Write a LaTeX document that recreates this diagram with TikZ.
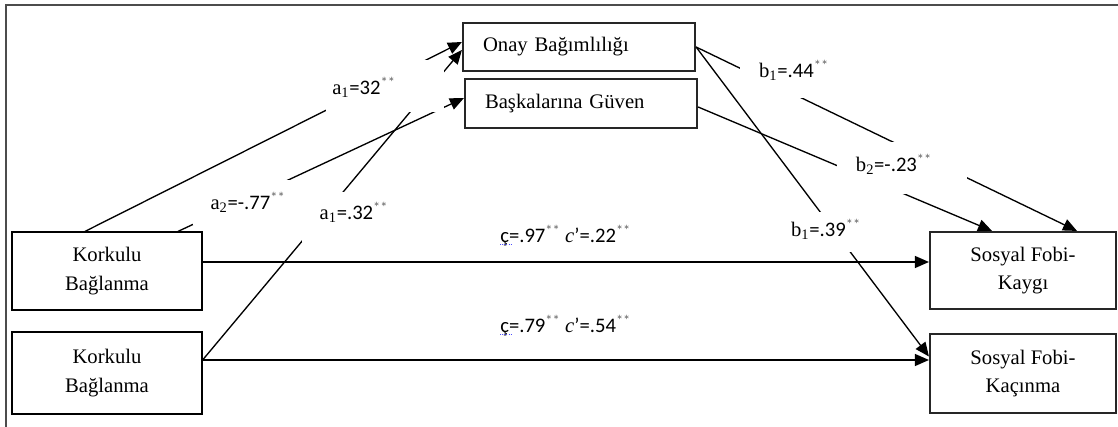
\documentclass[tikz,border=0pt]{standalone}
\usepackage{fontspec}
\setmainfont{Liberation Serif}
\newfontfamily\lblfont{Carlito}
\usetikzlibrary{arrows.meta}
\newcommand\stars{\textsuperscript{\color{black!60}**}}
\newcommand\coef[3]{{\rmfamily #1\textsubscript{#2}}#3\stars}
\newcommand\cprime{{\rmfamily\itshape c}’}
\begin{document}
\begin{tikzpicture}[x=0.75pt, y=-0.75pt,
    box/.style={draw, line width=0.9pt, align=center, inner sep=0pt,
      font=\fontsize{15.5}{21.5}\selectfont},
    thickbox/.style={box, line width=1.6pt, draw=black!85},
    medbox/.style={thickbox, minimum width=174pt, text width=144pt, align=left},
    arr/.style={-{Triangle[length=10.5pt,width=9pt]}, line width=1pt},
    lbl/.style={font=\lblfont\fontsize{15.5}{18}\selectfont, inner sep=0pt},
    mask/.style={fill=white}]
  \useasboundingbox (0,0) rectangle (1118,427);
  % cerceve
  \draw[line width=1.5pt, black!70] (6,427) -- (6,5) -- (1118,5);

  % kutular
  \node[medbox, minimum height=36pt] (onay) at (579,47) {Onay Bağımlılığı};
  \node[medbox, minimum height=36.75pt] (bask) at (581,103.5) {Başkalarına Güven};
  \node[box, minimum width=142.5pt, minimum height=58.5pt] (korkA) at (107,271) {Korkulu\\Bağlanma};
  \node[box, minimum width=142.5pt, minimum height=61.5pt] (korkB) at (107,373) {Korkulu\\Bağlanma};
  \node[thickbox, minimum width=139.5pt, minimum height=57.75pt] (kaygi) at (1023,270.5) {Sosyal Fobi-\\Kaygı};
  \node[thickbox, minimum width=139.5pt, minimum height=59.25pt] (kacinma) at (1023,373.5) {Sosyal Fobi-\\Kaçınma};

  % yollar
  \coordinate (hA) at ([yshift=6.75pt]korkA.east);
  \coordinate (hB) at ([yshift=9.75pt]korkB.east);
  \draw[arr] ([xshift=-16.5pt]korkA.north) -- ([yshift=3.75pt]onay.west);
  \draw[arr] ([xshift=53.25pt]korkA.north) -- ([yshift=4.1pt]bask.west);
  \draw[arr] (hB) -- ([yshift=-2.25pt]onay.west);
  \draw[arr] (hA) -- (hA -| kaygi.west);
  \draw[arr] (hB) -- (hB -| kacinma.west);
  \draw[arr] (onay.east) -- ([xshift=40.5pt]kaygi.north);
  \draw[arr] ([yshift=-2.6pt]bask.east) -- ([xshift=-23.25pt]kaygi.north);
  \draw[arr] (onay.east) -- ([yshift=12.75pt]kacinma.west);

  % etiket kutulari
  \fill[mask] (326,60) rectangle (444,112);
  \fill[mask] (193,180) rectangle (292,225);
  \fill[mask] (302,192) rectangle (395,242);
  \fill[mask] (740,55) rectangle (840,98);
  \fill[mask] (837,142) rectangle (967,194);
  \fill[mask] (790,212) rectangle (865,252);

  % katsayilar
  \node[lbl] (la1) at (364,87) {\coef{a}{1}{=32}};
  \node[lbl] (la2) at (248,202) {\coef{a}{2}{=-.77}};
  \node[lbl] (la3) at (354,212) {\coef{a}{1}{=.32}};
  \node[lbl] (lb1) at (794,70) {\coef{b}{1}{=.44}};
  \node[lbl] (lb2) at (894,164) {\coef{b}{2}{=-.23}};
  \node[lbl] (lb3) at (826,229) {\coef{b}{1}{=.39}};
  \node[lbl, anchor=west] (lc1) at (500,236) {ç=.97\stars{} \cprime=.22\stars};
  \node[lbl, anchor=west] (lc2) at (500,326) {ç=.79\stars{} \cprime=.54\stars};
  \draw[blue!70, densely dotted, line width=0.6pt] (500,244) -- (512,244);
  \draw[blue!70, densely dotted, line width=0.6pt] (500,334) -- (512,334);
\end{tikzpicture}
\end{document}
